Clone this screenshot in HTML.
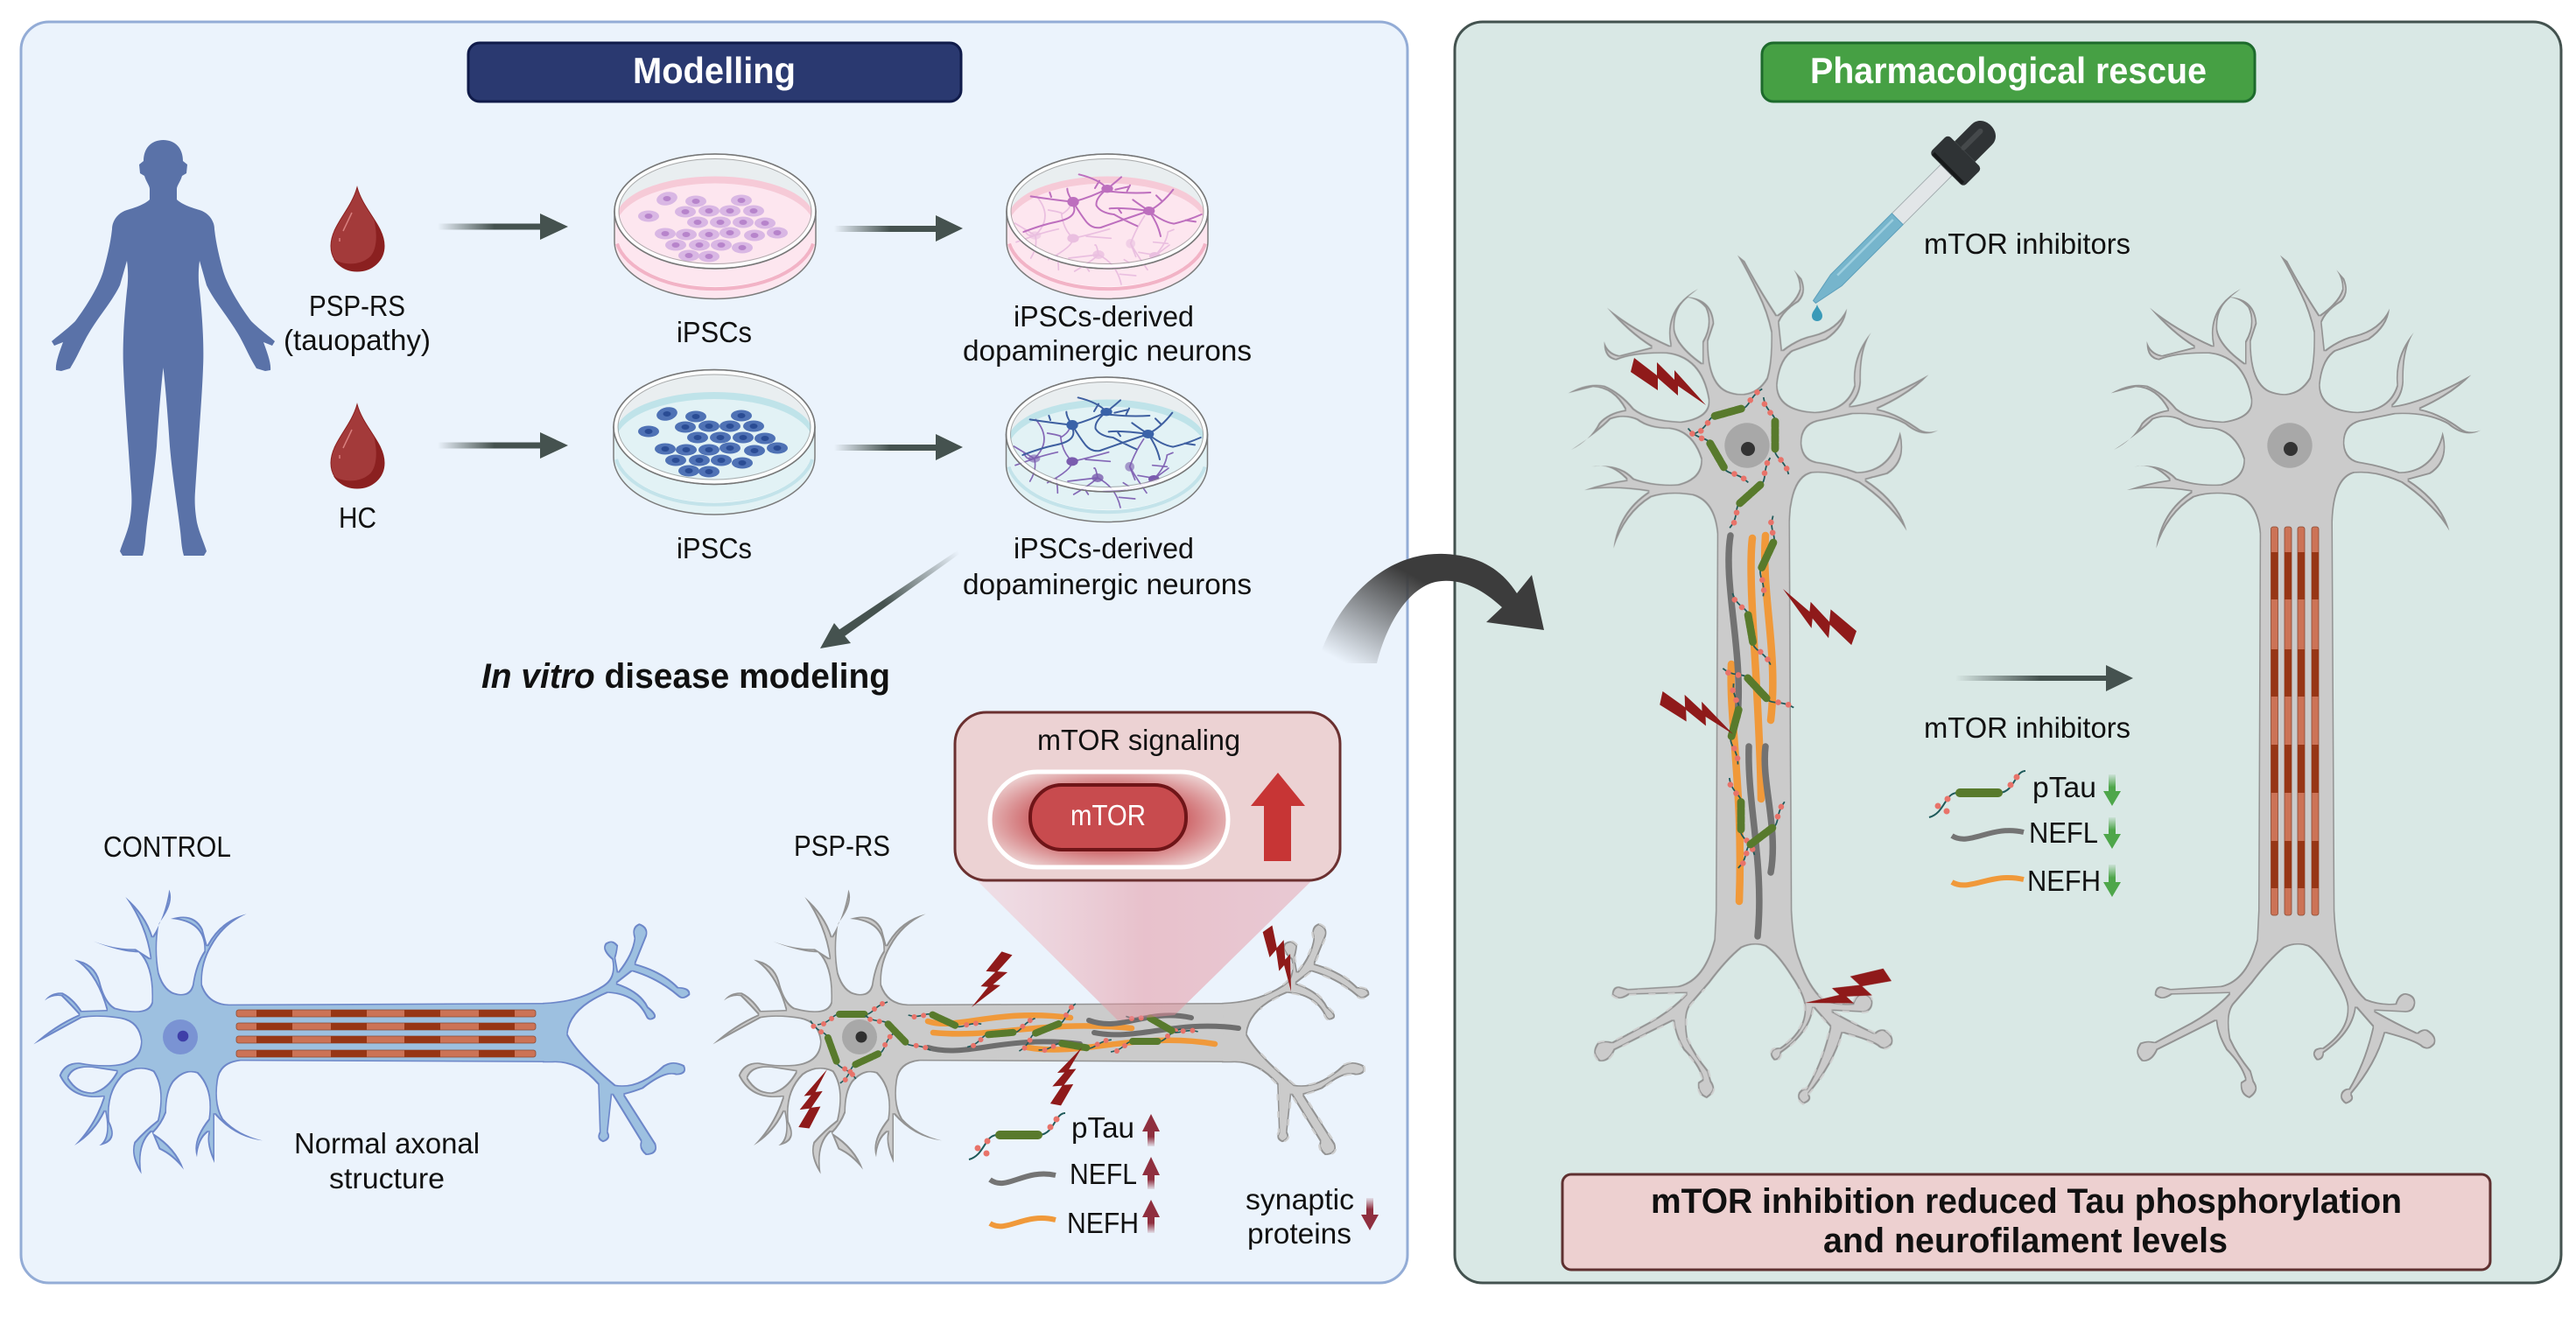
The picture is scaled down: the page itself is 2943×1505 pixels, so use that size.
<!DOCTYPE html>
<html><head><meta charset="utf-8"><title>Modelling and pharmacological rescue</title>
<style>
html,body{margin:0;padding:0;background:#fff}
svg{display:block}
text{font-family:"Liberation Sans",sans-serif;font-size:33px;fill:#111}
.b{font-weight:bold}
</style></head><body>
<svg xmlns="http://www.w3.org/2000/svg" width="2943" height="1505" viewBox="0 0 2943 1505">
<defs>
<filter id="fb" filterUnits="userSpaceOnUse" x="0" y="950" width="850" height="450" color-interpolation-filters="sRGB"><feMorphology in="SourceGraphic" operator="erode" radius="1.5" result="e"/><feFlood flood-color="#6d87c9"/><feComposite in2="SourceAlpha" operator="in" result="o"/><feMerge><feMergeNode in="o"/><feMergeNode in="e"/></feMerge></filter>
<filter id="fg" filterUnits="userSpaceOnUse" x="780" y="950" width="820" height="450" color-interpolation-filters="sRGB"><feMorphology in="SourceGraphic" operator="erode" radius="1.5" result="e"/><feFlood flood-color="#939393"/><feComposite in2="SourceAlpha" operator="in" result="o"/><feMerge><feMergeNode in="o"/><feMergeNode in="e"/></feMerge></filter>
<filter id="fv" filterUnits="userSpaceOnUse" x="1750" y="250" width="1150" height="1050" color-interpolation-filters="sRGB"><feMorphology in="SourceGraphic" operator="erode" radius="1.6" result="e"/><feFlood flood-color="#939393"/><feComposite in2="SourceAlpha" operator="in" result="o"/><feMerge><feMergeNode in="o"/><feMergeNode in="e"/></feMerge></filter>
<linearGradient id="ga" x1="0" x2="1" y1="0" y2="0"><stop offset="0" stop-color="#45524f" stop-opacity="0"/><stop offset=".55" stop-color="#45524f"/></linearGradient>
<linearGradient id="gd" gradientUnits="userSpaceOnUse" x1="1094" y1="629" x2="1010" y2="690"><stop offset="0" stop-color="#45524f" stop-opacity="0"/><stop offset="1" stop-color="#45524f"/></linearGradient>
<linearGradient id="gc" gradientUnits="userSpaceOnUse" x1="1540" y1="760" x2="1600" y2="650"><stop offset="0" stop-color="#3b3b3b" stop-opacity="0"/><stop offset="1" stop-color="#3c3c3c"/></linearGradient>
<linearGradient id="gz" x1="0" x2="1" y1="0" y2="0"><stop offset="0" stop-color="#f6b9bf" stop-opacity=".35"/><stop offset=".5" stop-color="#e48f9b" stop-opacity=".5"/><stop offset="1" stop-color="#e48f9b" stop-opacity=".42"/></linearGradient>
<radialGradient id="gp" cx=".5" cy=".5" r=".6"><stop offset=".4" stop-color="#c5474b"/><stop offset="1" stop-color="#efd9d9"/></radialGradient>
<linearGradient id="gu" x1="0" x2="0" y1="0" y2="1"><stop offset="0" stop-color="#8f2f3f"/><stop offset=".7" stop-color="#8f2f3f"/><stop offset="1" stop-color="#8f2f3f" stop-opacity=".1"/></linearGradient>
<linearGradient id="gdn" x1="0" x2="0" y1="0" y2="1"><stop offset="0" stop-color="#8f2f3f" stop-opacity=".1"/><stop offset=".35" stop-color="#8f2f3f"/></linearGradient>
<linearGradient id="ggr" x1="0" x2="0" y1="0" y2="1"><stop offset="0" stop-color="#4ea64a" stop-opacity=".1"/><stop offset=".4" stop-color="#4ea64a"/></linearGradient>
<polygon id="bolt" fill="#8f1a1a" points="-82,-54 -56,-34 -56,-49 -36,-29 -36,-40 0,0 -32,-22 -32,-11 -55,-31 -55,-17 -86,-38"/>
<g id="human"><path fill="#5a72a8" d="M187,160C172,160 164,170 164,184L159,188L160,198L165,201C167,208 171,212 171,216L171,228C165,234 152,238 145,240C135,243 128,252 128,262C126,280 122,295 118,310C112,330 95,355 86,367C78,375 66,384 59,390L62,395L72,391C68,402 63,415 64,423L70,424L80,421C88,408 92,398 99,385C112,362 128,345 137,326L145,298C147,312 146,325 145,332C141,370 140,400 141,420C142,450 146,500 150,561C151,575 150,585 148,597C145,610 140,620 137,630L140,635L163,635C166,625 166,615 167,607C170,580 176,545 179,510C181,480 184,440 187,416Z"/></g>
<g id="drop"><path fill="#a33a3a" stroke="#8b2020" d="M408,214C415,240 439,258 439,281C439,298 425,310 408,310C391,310 378,298 378,281C378,258 401,240 408,214Z"/><path fill="#8b2020" d="M439,281C439,298 425,310 408,310C395,310 385,303 381,296C392,303 410,304 422,294C430,287 432,270 427,250C434,260 439,270 439,281Z"/><path d="M402,243L392,264M388,272L388,276" stroke="#d9807f" stroke-width="1.500" fill="none"/></g>
<g id="cells">
<g style="fill:var(--c)"><ellipse cx="762" cy="227" rx="12" ry="7.500" transform="rotate(-12 762 227)"/><ellipse cx="795" cy="230" rx="12" ry="6.500"/><ellipse cx="847" cy="229" rx="12" ry="6.500"/><ellipse cx="741" cy="247" rx="12" ry="6.500"/><ellipse cx="783" cy="242" rx="12" ry="6.500"/><ellipse cx="810" cy="241" rx="12" ry="6.500"/><ellipse cx="834" cy="241" rx="12" ry="6.500"/><ellipse cx="861" cy="241" rx="12" ry="6.500"/><ellipse cx="797" cy="254" rx="12" ry="6.500"/><ellipse cx="823" cy="254" rx="12" ry="6.500"/><ellipse cx="849" cy="254" rx="12" ry="6.500"/><ellipse cx="874" cy="255" rx="12" ry="6.500"/><ellipse cx="760" cy="267" rx="12" ry="6.500"/><ellipse cx="784" cy="268" rx="12" ry="6.500"/><ellipse cx="810" cy="268" rx="12" ry="6.500"/><ellipse cx="834" cy="266" rx="12" ry="6.500"/><ellipse cx="862" cy="269" rx="12" ry="6.500"/><ellipse cx="888" cy="266" rx="12" ry="6.500"/><ellipse cx="772" cy="280" rx="12" ry="6.500"/><ellipse cx="799" cy="280" rx="12" ry="6.500"/><ellipse cx="824" cy="280" rx="12" ry="6.500"/><ellipse cx="848" cy="283" rx="12" ry="6.500"/><ellipse cx="787" cy="292" rx="12" ry="6.500"/><ellipse cx="810" cy="293" rx="12" ry="6.500"/></g>
<g style="fill:var(--n)"><ellipse cx="762" cy="227" rx="4.500" ry="3"/><ellipse cx="795" cy="230" rx="4.500" ry="3"/><ellipse cx="847" cy="229" rx="4.500" ry="3"/><ellipse cx="741" cy="247" rx="4.500" ry="3"/><ellipse cx="783" cy="242" rx="4.500" ry="3"/><ellipse cx="810" cy="241" rx="4.500" ry="3"/><ellipse cx="834" cy="241" rx="4.500" ry="3"/><ellipse cx="861" cy="241" rx="4.500" ry="3"/><ellipse cx="797" cy="254" rx="4.500" ry="3"/><ellipse cx="823" cy="254" rx="4.500" ry="3"/><ellipse cx="849" cy="254" rx="4.500" ry="3"/><ellipse cx="874" cy="255" rx="4.500" ry="3"/><ellipse cx="760" cy="267" rx="4.500" ry="3"/><ellipse cx="784" cy="268" rx="4.500" ry="3"/><ellipse cx="810" cy="268" rx="4.500" ry="3"/><ellipse cx="834" cy="266" rx="4.500" ry="3"/><ellipse cx="862" cy="269" rx="4.500" ry="3"/><ellipse cx="888" cy="266" rx="4.500" ry="3"/><ellipse cx="772" cy="280" rx="4.500" ry="3"/><ellipse cx="799" cy="280" rx="4.500" ry="3"/><ellipse cx="824" cy="280" rx="4.500" ry="3"/><ellipse cx="848" cy="283" rx="4.500" ry="3"/><ellipse cx="787" cy="292" rx="4.500" ry="3"/><ellipse cx="810" cy="293" rx="4.500" ry="3"/></g>
</g>
<clipPath id="lid"><ellipse cx="0" cy="0" rx="113" ry="64"/></clipPath>
<g id="dishBase">
<path d="M-115,0V34A115,66 0 0 0 115,34V0Z" style="fill:var(--l)" stroke="#7c7c7c" stroke-width="1.500"/>
<path d="M-110,38A112,60 0 0 0 110,38" fill="none" stroke="#fff" stroke-opacity=".7" stroke-width="1.500"/>
<path d="M-112,37A114,63.500 0 0 0 112,37" fill="none" style="stroke:var(--r)" stroke-width="4"/>
<ellipse rx="115" ry="65.500" fill="#e9eef0" stroke="#777" stroke-width="1.500"/>
<g clip-path="url(#lid)"><path d="M-113,8A113,48 0 0 1 113,8V70H-113Z" style="fill:var(--t)"/><path d="M-113,18A113,50 0 0 1 113,18V70H-113Z" style="fill:var(--l)"/></g>
</g>
<g id="dishRim"><ellipse rx="112" ry="62.500" fill="none" stroke="#fff" stroke-opacity=".9" stroke-width="3.500"/><ellipse rx="110" ry="60" fill="none" stroke="#8f8f8f" stroke-opacity=".7" stroke-width="1"/><ellipse rx="115" ry="65.500" fill="none" stroke="#777" stroke-width="1.300"/></g>
<g id="net1" transform="translate(1140,420) scale(.33333)" fill="none" stroke-linecap="round" stroke-linejoin="round">
<path stroke-width="6" d="M255,197Q190,190 110,178M255,197Q235,170 235,152M180,180L175,165M255,197Q320,180 372,152M255,197Q280,240 300,265Q320,290 350,285Q420,260 515,228M255,205Q275,250 200,265Q150,275 85,300M372,152Q345,120 275,103M345,125L330,150M372,152Q400,130 420,112M372,152Q330,185 335,210Q350,235 395,240Q430,260 475,280M372,160Q450,170 520,165M440,160L450,140M400,155L445,145M515,228Q480,205 460,190M515,228Q420,215 380,220M515,228Q560,205 598,155M560,195L540,175M515,228Q545,270 555,315M515,228Q560,265 600,272Q650,260 695,240M640,260L675,265M420,235L410,220"/>
<g stroke="none" fill="currentColor"><ellipse cx="255" cy="197" rx="20" ry="17"/><ellipse cx="372" cy="152" rx="20" ry="14"/><ellipse cx="515" cy="228" rx="20" ry="15"/></g>
</g>
<g id="net2" transform="translate(1140,420) scale(.33333)" fill="none" stroke-linecap="round" stroke-linejoin="round">
<path stroke-width="5" d="M125,312Q160,300 205,290M125,312L55,270M125,312L60,335M125,312Q135,350 110,390M125,312Q100,320 90,295M125,312Q190,250 130,178M255,322Q220,290 215,235Q200,230 170,225M215,240Q240,225 245,210M255,322Q310,310 380,290M300,315L385,322M255,322Q255,350 170,395M200,378Q205,410 205,430M342,378Q320,400 260,435M342,378L240,390M342,378Q335,340 330,345M342,378Q405,410 420,480M415,445L470,450M300,420L310,435M452,340Q470,290 500,245M452,340Q475,380 510,430M480,370L540,380M452,340L470,385M535,382Q480,420 360,425M535,382Q575,340 580,300M580,300L600,292M580,340L530,335M535,382L585,345M430,395L450,408"/>
<g stroke="none" fill="currentColor"><ellipse cx="125" cy="312" rx="20" ry="14" opacity=".6"/><ellipse cx="255" cy="322" rx="20" ry="15"/><ellipse cx="342" cy="378" rx="20" ry="15" opacity=".8"/><ellipse cx="452" cy="340" rx="16" ry="16" opacity=".6"/><ellipse cx="535" cy="382" rx="19" ry="13"/></g>
</g>
<path id="hc" d="M535,392Q575,398 585,360Q595,290 625,245Q628,145 510,135Q590,110 620,170L635,225Q680,140 770,118Q690,155 650,230Q615,290 618,360Q640,425 710,428L1818,423L1818,627L750,622Q680,630 672,690Q660,770 690,820Q740,875 825,895Q730,885 660,805L660,972Q630,910 640,865Q605,890 600,952Q580,895 640,820Q655,720 600,665Q560,650 520,695Q495,730 495,800Q480,840 450,870Q530,920 555,995Q515,945 470,925L445,865Q395,910 410,1010Q370,950 385,900Q420,860 465,825Q490,720 450,660Q400,635 350,670Q290,730 300,830Q335,900 265,912Q305,885 285,795Q250,870 180,912Q250,840 280,745Q170,760 128,672Q145,625 200,628Q260,640 320,635Q405,625 408,555Q400,490 340,478Q260,465 205,475L40,565Q110,500 195,463Q165,430 135,400Q105,395 78,415Q100,385 140,388Q175,405 205,450L290,447Q255,320 180,275Q250,285 268,350Q285,420 320,440Q430,470 445,420Q450,300 400,250Q340,250 245,212Q320,240 390,238L440,270Q425,160 355,60Q425,120 448,195Q490,130 505,35Q525,80 470,150Q455,240 470,320Q490,385 535,392ZM160,680Q175,640 240,645L325,658Q290,720 240,730Q190,730 160,680Z"/>
<path id="ht" d="M1080,775Q1150,772 1200,730Q1225,710 1218,665Q1195,640 1205,622Q1220,610 1230,628Q1228,650 1225,660L1230,695Q1258,650 1262,610Q1255,580 1272,572Q1292,580 1287,605L1265,675Q1320,695 1350,735Q1375,735 1373,755Q1360,770 1350,760Q1310,715 1258,695L1228,725Q1275,745 1290,785Q1310,805 1303,815Q1290,825 1285,810Q1265,755 1210,750Q1135,790 1130,855Q1150,905 1225,985Q1270,995 1320,935Q1340,920 1362,935Q1370,960 1345,960Q1325,950 1280,995Q1260,1005 1243,1010L1305,1135Q1312,1165 1285,1165Q1270,1150 1275,1130L1218,1010L1210,1105Q1218,1125 1200,1132Q1185,1125 1193,1105L1190,985Q1150,925 1100,928L1080,928Z"/>
<g id="hn"><use href="#hc" transform="translate(25,1005) scale(.33333)" fill="currentColor" fill-rule="evenodd"/><use href="#ht" transform="scale(.5741,.4464) translate(0,1792)" fill="currentColor"/></g>
<path id="vp" d="M575,510Q625,505 655,455Q672,400 670,300Q655,230 625,170Q590,95 555,35L580,55Q625,140 690,240Q755,195 768,150Q768,115 748,85L775,115Q795,165 765,195Q715,225 698,265L708,360Q760,320 810,310Q895,290 930,218Q925,280 860,325Q800,345 745,365Q700,395 692,480Q695,565 820,572Q930,565 955,480Q945,380 1013,300Q975,360 978,470Q975,520 940,552Q1040,540 1210,445Q1150,510 1035,562Q1100,575 1170,625Q1200,650 1243,635Q1190,665 1130,615Q1060,575 950,580L830,605Q775,620 775,680Q780,740 840,745Q900,755 965,778Q1080,775 1112,640Q1140,740 1070,785L995,805Q1110,880 1135,980Q1080,890 970,815Q880,775 810,782Q740,800 735,950L742,2280Q748,2400 770,2450Q800,2540 850,2585Q900,2605 950,2600Q960,2565 985,2565Q1020,2570 1018,2600Q1015,2635 975,2630L880,2625Q950,2665 1025,2700Q1040,2685 1060,2690Q1095,2710 1085,2740Q1065,2765 1040,2750Q1020,2730 915,2702Q885,2810 800,2910Q815,2935 780,2945Q755,2930 765,2905Q775,2890 790,2892Q845,2800 872,2680L815,2615Q805,2700 705,2770Q705,2795 680,2795Q660,2775 675,2757Q690,2750 700,2752Q790,2690 785,2610Q780,2570 740,2510Q690,2430 650,2405Q610,2390 570,2410Q520,2450 460,2530L395,2605Q370,2640 385,2720Q410,2775 455,2830L465,2865Q490,2900 450,2925Q415,2915 420,2870L435,2860Q420,2810 370,2760Q340,2710 335,2660L135,2760Q115,2805 80,2798Q50,2770 75,2735Q100,2725 125,2732L250,2665Q330,2620 380,2565L185,2570Q150,2595 125,2572Q125,2540 150,2542L180,2550L350,2540Q440,2520 475,2380L480,2280L485,990Q475,880 400,858Q320,845 260,865Q170,920 130,1040Q145,915 250,845Q130,825 30,840Q100,815 175,805Q120,745 55,760Q150,745 200,800Q270,825 350,820Q430,800 430,735Q400,640 320,630Q250,630 210,600Q165,580 120,598Q80,640 -15,702Q50,670 80,610Q110,575 170,565Q130,490 60,487L-25,508Q40,470 100,482Q155,505 200,560Q250,600 360,605Q460,590 455,530Q430,385 310,372Q200,370 140,395Q95,390 98,330Q110,370 150,378L260,350Q180,300 108,215Q200,290 325,345Q300,215 420,150L385,178Q470,185 475,270L455,330Q455,470 520,500Q550,512 575,510ZM385,180Q335,220 340,290Q350,345 435,405L435,330Q470,270 445,215Q420,185 385,180Z"/>
<clipPath id="hcl"><rect x="1440" y="1040" width="180" height="320"/></clipPath>
<clipPath id="vcl"><rect x="1780" y="1130" width="480" height="160"/></clipPath>
<g id="bh"><rect x="0" width="342" height="8" rx="2.500" fill="#cc7356" stroke="#8a4a32" stroke-width=".8"/><rect x="23" width="41" height="8" fill="#973615"/><rect x="108" width="41" height="8" fill="#973615"/><rect x="192" width="41" height="8" fill="#973615"/><rect x="277" width="41" height="8" fill="#973615"/></g>
<g id="bv"><rect width="8" height="444" rx="2.500" fill="#cc7356" stroke="#8a4a32" stroke-width=".8"/><rect y="29" width="8" height="54" fill="#973615"/><rect y="140" width="8" height="54" fill="#973615"/><rect y="249" width="8" height="55" fill="#973615"/><rect y="359" width="8" height="54" fill="#973615"/></g>
<g id="tau">
<path d="M-17,0C-24,2 -26,10 -40,12M17,0C24,-2 26,-10 40,-14" fill="none" stroke="#1f5a5a" stroke-width="1.600"/>
<path d="M-15,0H15" stroke="#587a2c" stroke-width="8" stroke-linecap="round" stroke-dasharray="6 1.500"/>
<g fill="#e8736a"><circle cx="-24" cy="5" r="3"/><circle cx="-33" cy="11" r="3"/><circle cx="25" cy="-6" r="3"/><circle cx="34" cy="-12" r="3"/></g>
</g>
<g id="tauL">
<path d="M1139,1297C1125,1297 1125,1320 1107,1325M1188,1297C1205,1295 1205,1272 1217,1272" fill="none" stroke="#1f5a5a" stroke-width="2"/>
<path d="M1142,1297H1186" stroke="#587a2c" stroke-width="10" stroke-linecap="round" stroke-dasharray="10 2"/>
<g fill="#e8736a"><circle cx="1117" cy="1312" r="3.500"/><circle cx="1128" cy="1304" r="3.500"/><circle cx="1127" cy="1318" r="3.500"/><circle cx="1200" cy="1288" r="3.500"/><circle cx="1207" cy="1279" r="3.500"/></g>
</g>
</defs>

<rect x="24" y="25" width="1584" height="1441" rx="32" fill="#ebf3fc" stroke="#93acd6" stroke-width="3"/>
<rect x="1662" y="25" width="1264" height="1441" rx="32" fill="#d9e8e5" stroke="#43524f" stroke-width="3"/>

<rect x="535" y="49" width="563" height="67" rx="13" fill="#2a3970" stroke="#101b4a" stroke-width="3"/>
<text x="723" y="95" class="b" style="font-size:42px;fill:#fff" textLength="186" lengthAdjust="spacingAndGlyphs">Modelling</text>
<rect x="2013" y="49" width="563" height="67" rx="13" fill="#46a044" stroke="#1d6a2c" stroke-width="3"/>
<text x="2068" y="95" class="b" style="font-size:42px;fill:#fff" textLength="453" lengthAdjust="spacingAndGlyphs">Pharmacological rescue</text>

<use href="#human"/><use href="#human" transform="translate(373,0) scale(-1,1)"/>
<use href="#drop"/><use href="#drop" y="248"/>
<text x="353" y="361" textLength="110" lengthAdjust="spacingAndGlyphs">PSP-RS</text>
<text x="324" y="400" textLength="168" lengthAdjust="spacingAndGlyphs">(tauopathy)</text>
<text x="387" y="603" textLength="43" lengthAdjust="spacingAndGlyphs">HC</text>
<text x="773" y="391" textLength="86" lengthAdjust="spacingAndGlyphs">iPSCs</text>
<text x="773" y="638" textLength="86" lengthAdjust="spacingAndGlyphs">iPSCs</text>

<g><rect x="500" y="255.500" width="118" height="7" fill="url(#ga)"/><path d="M617,244L649,259L617,274Z" fill="#45524f"/></g>
<g><rect x="500" y="505.500" width="118" height="7" fill="url(#ga)"/><path d="M617,494L649,509L617,524Z" fill="#45524f"/></g>
<g><rect x="953" y="258" width="117" height="7" fill="url(#ga)"/><path d="M1069,246L1100,261L1069,276Z" fill="#45524f"/></g>
<g><rect x="953" y="508" width="117" height="7" fill="url(#ga)"/><path d="M1069,496L1100,511L1069,526Z" fill="#45524f"/></g>
<path d="M1094,629L1096,633L965,727L958,720Z" fill="url(#gd)"/><path d="M937,741L953,712L972,735Z" fill="#45524f"/>

<use href="#dishBase" transform="translate(817,241.500)" style="--l:#fde6ef;--t:#f6cad7;--r:#f2b3c6"/>
<use href="#cells" style="--c:#d9b7e4;--n:#b784cb"/>
<use href="#dishRim" transform="translate(817,241.500)"/>
<use href="#dishBase" transform="translate(816,488)" style="--l:#e2f2f5;--t:#bfe3e9;--r:#c3e3ea"/>
<use href="#cells" y="246" style="--c:#4f72b5;--n:#2a4c94"/>
<use href="#dishRim" transform="translate(816,488)"/>
<use href="#dishBase" transform="translate(1265,241.500)" style="--l:#fde6ef;--t:#f6cad7;--r:#f2b3c6"/>
<g transform="translate(1,-255)"><use href="#net2" stroke="#eabfe0" color="#eabfe0"/><use href="#net1" stroke="#bd6fbe" color="#bd6fbe"/></g>
<use href="#dishRim" transform="translate(1265,241.500)"/>
<use href="#dishBase" transform="translate(1264.500,496.500)" style="--l:#e2f2f5;--t:#bfe3e9;--r:#c3e3ea"/>
<use href="#net2" stroke="#8468b6" color="#7a5cae"/>
<use href="#net1" stroke="#3e5fa0" color="#3a62a8"/>
<use href="#dishRim" transform="translate(1264.500,496.500)"/>

<text x="1158" y="373" textLength="206" lengthAdjust="spacingAndGlyphs">iPSCs-derived</text>
<text x="1100" y="412" textLength="330" lengthAdjust="spacingAndGlyphs">dopaminergic neurons</text>
<text x="1158" y="638" textLength="206" lengthAdjust="spacingAndGlyphs">iPSCs-derived</text>
<text x="1100" y="679" textLength="330" lengthAdjust="spacingAndGlyphs">dopaminergic neurons</text>

<text x="550" y="786" class="b" style="font-size:40px" textLength="467" lengthAdjust="spacingAndGlyphs"><tspan font-style="italic">In vitro</tspan> disease modeling</text>

<g filter="url(#fb)" style="color:#9dc0e0"><use href="#hn"/></g>
<circle cx="206" cy="1185" r="20" fill="#7a93d3"/><circle cx="209" cy="1184" r="6.300" fill="#3f3fa8"/>
<use href="#bh" x="270" y="1154"/><use href="#bh" x="270" y="1169"/><use href="#bh" x="270" y="1184"/><use href="#bh" x="270" y="1200"/>
<text x="118" y="979" textLength="146" lengthAdjust="spacingAndGlyphs">CONTROL</text>
<text x="336" y="1318" textLength="212" lengthAdjust="spacingAndGlyphs">Normal axonal</text>
<text x="376" y="1358" textLength="132" lengthAdjust="spacingAndGlyphs">structure</text>
<text x="907" y="978" textLength="110" lengthAdjust="spacingAndGlyphs">PSP-RS</text>

<g filter="url(#fg)" style="color:#cbcbcb"><use href="#hn" transform="translate(776,0)"/></g>
<g clip-path="url(#hcl)"><use href="#ht" transform="translate(776,0) scale(.5741,.4464) translate(0,1792)" fill="none" stroke="#cfcfcf" stroke-width="4" stroke-dasharray="16 28"/></g>
<circle cx="982" cy="1185" r="20" fill="#a8a8a8"/><circle cx="984" cy="1185" r="6.500" fill="#2f2f2f"/>
<g fill="none" stroke-linecap="round">
<g stroke="#f0993a" stroke-width="6.500"><path d="M1060,1167C1093,1178 1136,1152 1223,1163"/><path d="M1066,1180C1136,1187 1190,1165 1293,1175"/><path d="M1174,1197C1234,1208 1299,1178 1388,1193"/></g>
<g stroke="#6e6e6e" stroke-width="6"><path d="M1060,1197C1104,1210 1147,1182 1234,1193"/><path d="M1244,1166C1282,1180 1309,1152 1361,1163"/><path d="M1250,1180C1299,1190 1342,1165 1415,1175"/></g>
</g>
<use href="#tau" transform="translate(974,1159)"/><use href="#tau" transform="translate(951,1200) rotate(70)"/><use href="#tau" transform="translate(991,1210) rotate(-25)"/><use href="#tau" transform="translate(1025,1181) rotate(46)"/><use href="#tau" transform="translate(1079,1166) rotate(25)"/><use href="#tau" transform="translate(1144,1181) rotate(-5)"/><use href="#tau" transform="translate(1197,1175) rotate(-22)"/><use href="#tau" transform="translate(1228,1195) rotate(10)"/><use href="#tau" transform="translate(1309,1190)"/><use href="#tau" transform="translate(1327,1171) rotate(30)"/>
<polygon points="1116,1006 1499,1006 1342,1160 1277,1166" fill="url(#gz)"/>
<use href="#bolt" transform="translate(1110,1151) rotate(94.600) scale(.77)"/>
<use href="#bolt" transform="translate(945,1222) rotate(-97) scale(.75)"/>
<use href="#bolt" transform="translate(1236,1197) rotate(-94) scale(.75)"/>
<use href="#bolt" transform="translate(1475,1133) rotate(40.700) scale(.8)"/>

<rect x="1091" y="814" width="440" height="192" rx="36" fill="#ecd2d3" stroke="#6b3030" stroke-width="3"/>
<text x="1185" y="857" textLength="232" lengthAdjust="spacingAndGlyphs">mTOR signaling</text>
<rect x="1131" y="882" width="272" height="109" rx="54" fill="url(#gp)" stroke="#fff" stroke-width="5"/>
<rect x="1177" y="897" width="178" height="74" rx="36" fill="#c84b4e" stroke="#6f1518" stroke-width="4"/>
<text x="1223" y="943" style="fill:#fff" textLength="86" lengthAdjust="spacingAndGlyphs">mTOR</text>
<path d="M1460,883L1491,921H1475V984H1444V921H1429Z" fill="#c73535"/>

<use href="#tauL"/>
<path d="M1131,1348C1150,1362 1170,1335 1206,1343" fill="none" stroke="#747474" stroke-width="6"/>
<path d="M1131,1398C1150,1410 1170,1385 1206,1394" fill="none" stroke="#f0993a" stroke-width="6"/>
<text x="1224" y="1300" textLength="72" lengthAdjust="spacingAndGlyphs">pTau</text>
<text x="1222" y="1353" textLength="77" lengthAdjust="spacingAndGlyphs">NEFL</text>
<text x="1219" y="1409" textLength="82" lengthAdjust="spacingAndGlyphs">NEFH</text>
<path d="M1315,1273L1325,1293H1319V1310H1311V1293H1305Z" fill="url(#gu)"/>
<path d="M1315,1322L1325,1343H1319V1359H1311V1343H1305Z" fill="url(#gu)"/>
<path d="M1315,1371L1325,1391H1319V1409H1311V1391H1305Z" fill="url(#gu)"/>
<text x="1423" y="1382" textLength="124" lengthAdjust="spacingAndGlyphs">synaptic</text>
<text x="1425" y="1421" textLength="119" lengthAdjust="spacingAndGlyphs">proteins</text>
<path d="M1561,1369H1569V1388H1575L1565,1406L1555,1388H1561Z" fill="url(#gdn)"/>

<path d="M1505,758C1525,690 1580,630 1650,633C1690,635 1715,650 1733,678L1750,657L1764,720L1698,711L1716,694C1690,670 1665,660 1640,665C1610,672 1585,710 1573,758Z" fill="url(#gc)"/>

<g transform="translate(2073,345) rotate(45)">
<path d="M-2,0L-9,-35V-213H9V-35L2,0Z" fill="#e2e6e8" stroke="#a4adb0" stroke-width="1"/>
<path d="M-2,0L-9,-35V-134H9V-35L2,0Z" fill="#76b5cc" stroke="#5da1bd" stroke-width="1"/>
<path d="M-3,-40V-130" stroke="#9fd0e0" stroke-width="2.500" fill="none"/>
<rect x="-27.500" y="-243" width="55" height="30" rx="5" fill="#2f3335"/>
<path d="M-24,-216H24" stroke="#17191a" stroke-width="4"/>
<path d="M-16.500,-243V-270C-16.500,-290 16.500,-290 16.500,-270V-243Z" fill="#2f3335"/>
<path d="M-4,-245V-272" stroke="#45494b" stroke-width="6" stroke-linecap="round"/>
</g>
<path d="M2076,348C2078,354 2082,356 2082,361C2082,369 2070,369 2070,361C2070,356 2074,354 2076,348Z" fill="#3a9ab8"/>
<text x="2198" y="290" textLength="236" lengthAdjust="spacingAndGlyphs">mTOR inhibitors</text>

<g filter="url(#fv)" style="color:#cbcbcb"><use href="#vp" transform="translate(2420,280) scale(.33333)" fill="currentColor" fill-rule="evenodd"/><use href="#vp" transform="translate(1800,280) scale(.33333)" fill="currentColor" fill-rule="evenodd"/></g>
<circle cx="2616" cy="509" r="25.700" fill="#a8a8a8"/><circle cx="2617" cy="513" r="8" fill="#333"/>
<use href="#bv" x="2594.500" y="602"/><use href="#bv" x="2610" y="602"/><use href="#bv" x="2625" y="602"/><use href="#bv" x="2641" y="602"/>

<g clip-path="url(#vcl)"><use href="#vp" transform="translate(1800,280) scale(.33333)" fill="none" stroke="#cfcfcf" stroke-width="6" stroke-dasharray="24 42"/></g>
<circle cx="1996" cy="509" r="25.700" fill="#a8a8a8"/><circle cx="1997" cy="513" r="8" fill="#333"/>
<g fill="none" stroke-linecap="round">
<g stroke="#f0993a" stroke-width="8.500"><path d="M2002,615C1996,665 2010,786 2012,913"/><path d="M2017,612C2012,680 2032,746 2023,823"/><path d="M1978,759C1975,820 1992,906 1987,1030"/></g>
<g stroke="#727272" stroke-width="7.500"><path d="M1977,612C1968,665 1992,746 1985,819"/><path d="M1998,853C1996,920 2016,987 2008,1070"/><path d="M2017,853C2012,893 2032,947 2023,997"/></g>
</g>
<use href="#tau" transform="translate(1975,471) rotate(-15.500) scale(1.1)"/><use href="#tau" transform="translate(2028,498) rotate(90) scale(1.1)"/><use href="#tau" transform="translate(1962,521) rotate(60) scale(1.1)"/><use href="#tau" transform="translate(2000,564) rotate(-42) scale(1.1)"/><use href="#tau" transform="translate(2019,635) rotate(115) scale(1.1)"/><use href="#tau" transform="translate(2000,719) rotate(80) scale(1.1)"/><use href="#tau" transform="translate(2008,787) rotate(47) scale(1.1)"/><use href="#tau" transform="translate(1982,827) rotate(105) scale(1.1)"/><use href="#tau" transform="translate(1989,933) rotate(90) scale(1.1)"/><use href="#tau" transform="translate(2013,955) rotate(-37) scale(1.1)"/>
<use href="#bolt" transform="translate(1949,463)"/>
<use href="#bolt" transform="translate(2037,673) rotate(-174) scale(1.03)"/>
<use href="#bolt" transform="translate(1980,839) rotate(-2) scale(.96)"/>
<use href="#bolt" transform="translate(2062,1146) rotate(132.500) scale(1.04)"/>

<rect x="2234" y="772" width="175" height="6" fill="url(#ga)"/><path d="M2406,760L2437,775L2406,790Z" fill="#45524f"/>
<text x="2198" y="843" textLength="236" lengthAdjust="spacingAndGlyphs">mTOR inhibitors</text>
<use href="#tauL" transform="translate(1097,-391)"/>
<path d="M2230,955C2250,968 2275,942 2312,951" fill="none" stroke="#747474" stroke-width="6"/>
<path d="M2230,1008C2250,1020 2275,996 2312,1005" fill="none" stroke="#f0993a" stroke-width="6"/>
<text x="2322" y="911" textLength="73" lengthAdjust="spacingAndGlyphs">pTau</text>
<text x="2318" y="963" textLength="79" lengthAdjust="spacingAndGlyphs">NEFL</text>
<text x="2316" y="1018" textLength="84" lengthAdjust="spacingAndGlyphs">NEFH</text>
<path d="M2409,885H2417V904H2423L2413,921L2403,904H2409Z" fill="url(#ggr)"/>
<path d="M2409,934H2417V953H2423L2413,970L2403,953H2409Z" fill="url(#ggr)"/>
<path d="M2409,988H2417V1008H2423L2413,1025L2403,1008H2409Z" fill="url(#ggr)"/>

<rect x="1785" y="1342" width="1060" height="109" rx="10" fill="#edd0d0" stroke="#5f3030" stroke-width="3"/>
<text x="1886" y="1386" class="b" style="font-size:40px" textLength="858" lengthAdjust="spacingAndGlyphs">mTOR inhibition reduced Tau phosphorylation</text>
<text x="2083" y="1431" class="b" style="font-size:40px" textLength="462" lengthAdjust="spacingAndGlyphs">and neurofilament levels</text>
</svg>
</body></html>
